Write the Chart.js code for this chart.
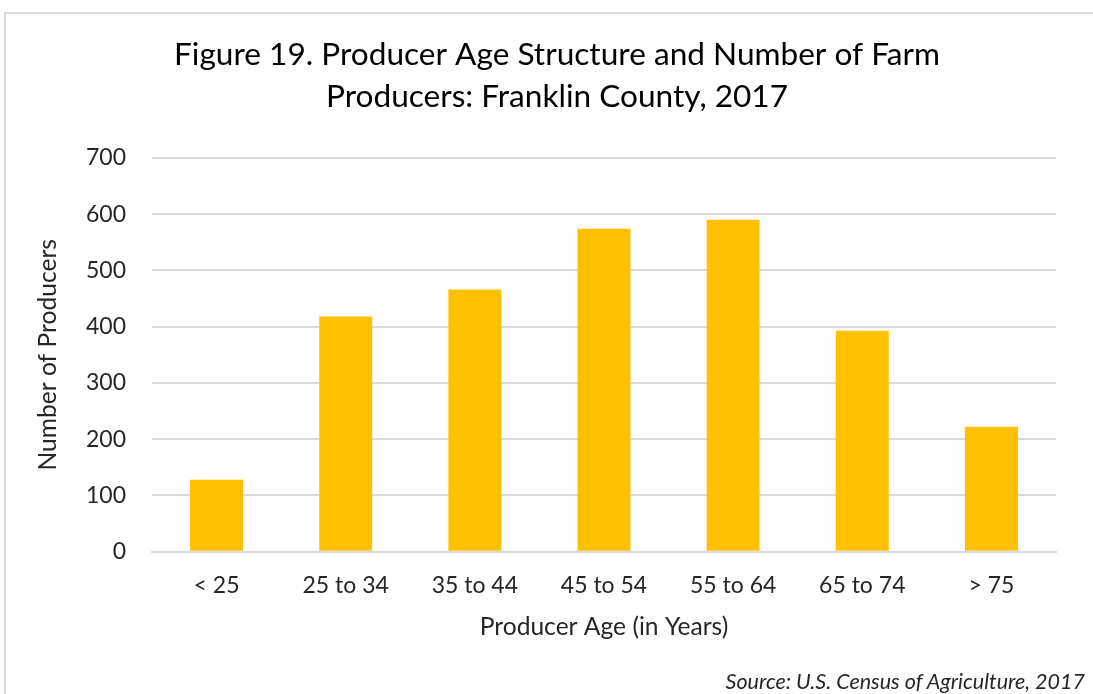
<!DOCTYPE html>
<html>
<head>
<meta charset="utf-8">
<script src="https://cdn.jsdelivr.net/npm/chart.js@4/dist/chart.umd.min.js"></script>
<style>
  html, body { margin: 0; padding: 0; background: #fff; }
  body { width: 1093px; height: 694px; position: relative; overflow: hidden; }
  #frame {
    position: absolute; left: 4px; top: 12px; width: 1089px; height: 682px;
    border-top: 2px solid #d9d9d9; border-left: 2px solid #d9d9d9;
    box-sizing: border-box;
  }
  #wrap { position: absolute; left: 0; top: 0; width: 1093px; height: 694px; }
  #source {
    position: absolute; right: 8px; top: 667px;
    font-family: Lato, "Open Sans", sans-serif; font-style: italic;
    font-size: 21.5px; line-height: 28px; color: #262626;
  }
</style>
</head>
<body>
<div id="frame"></div>
<div id="wrap"><canvas id="ageChart"></canvas></div>
<div id="source">Source: U.S. Census of Agriculture, 2017</div>
<script>
// Data
const ageGroups = ["< 25", "25 to 34", "35 to 44", "45 to 54", "55 to 64", "65 to 74", "> 75"];
const producers = [128, 418, 466, 574, 590, 393, 222];
const yTicks = [0, 100, 200, 300, 400, 500, 600, 700];

const fontFamily = "Lato, 'Open Sans', sans-serif";

const ctx = document.getElementById("ageChart").getContext("2d");
const ageChart = new Chart(ctx, {
  type: "bar",
  data: {
    labels: ageGroups,
    datasets: [
      {
        label: "Number of Producers",
        data: producers,
        backgroundColor: "#ffc000",
        categoryPercentage: 1,
        barPercentage: 0.41,
      },
    ],
  },
  options: {
    responsive: true,
    maintainAspectRatio: false,
    animation: false,
    layout: {
      padding: { left: 58, right: 37, top: 34, bottom: 0 },
    },
    plugins: {
      legend: { display: false },
      tooltip: { enabled: false },
      title: {
        display: true,
        text: ["Figure 19. Producer Age Structure and Number of Farm", "Producers: Franklin County, 2017"],
        color: "#000",
        font: { family: fontFamily, size: 31.6, weight: "normal", lineHeight: 42 / 31.6 },
        padding: { top: 0, bottom: 40 },
      },
    },
    scales: {
      x: {
        grid: { display: false, drawTicks: false },
        border: { color: "#d9d9d9", width: 2 },
        ticks: { color: "#262626", font: { family: fontFamily, size: 23 }, padding: 20 },
        title: {
          display: true,
          text: "Producer Age (in Years)",
          color: "#262626",
          font: { family: fontFamily, size: 24.6 },
          padding: { top: 0, bottom: 52.3 },
        },
        afterFit: (axis) => {
          axis.height = 142.3;
        },
      },
      y: {
        min: 0,
        max: 700,
        afterBuildTicks: (axis) => {
          axis.ticks = yTicks.map((v) => ({ value: v }));
        },
        grid: { color: "#d9d9d9", lineWidth: 2, drawTicks: false },
        border: { display: false },
        ticks: { color: "#262626", font: { family: fontFamily, size: 23 }, padding: 26 },
        title: {
          display: true,
          text: "Number of Producers",
          color: "#262626",
          font: { family: fontFamily, size: 24.6 },
          padding: { top: -24.8, bottom: 0 },
        },
        afterFit: (axis) => {
          axis.width = 94;
        },
      },
    },
  },
});
</script>
</body>
</html>
